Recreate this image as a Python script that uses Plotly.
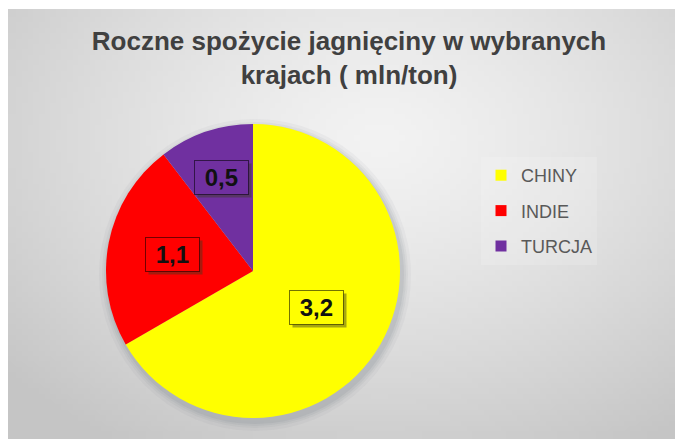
import base64, struct, zlib, math
import plotly.graph_objects as go

# ---- data ----
countries = ["CHINY", "INDIE", "TURCJA"]
consumption = [3.2, 1.1, 0.5]
colors = ["#FFFF00", "#FF0000", "#7030A0"]
title_text = "Roczne spożycie jagnięciny w wybranych<br>krajach ( mln/ton)"

# the page body adds an 8px margin, so the figure is 8px smaller
W, H = 675, 431
# pie geometry (figure pixels)
PCX, PCY, PR = 245, 263, 147


def make_png(w, h, fn):
    raw = bytearray()
    for j in range(h):
        raw.append(0)
        for i in range(w):
            raw.append(fn(i / (w - 1), j / (h - 1)))
    def chunk(t, d):
        c = struct.pack(">I", len(d)) + t + d
        return c + struct.pack(">I", zlib.crc32(t + d) & 0xFFFFFFFF)
    png = b"\x89PNG\r\n\x1a\n"
    png += chunk(b"IHDR", struct.pack(">IIBBBBB", w, h, 8, 0, 0, 0, 0))
    png += chunk(b"IDAT", zlib.compress(bytes(raw), 9))
    png += chunk(b"IEND", b"")
    return "data:image/png;base64," + base64.b64encode(png).decode()


def grad(u, v):
    dx = (u - 0.55) / 0.75
    dy = (v - 0.30) / 0.85
    d = min(1.0, math.sqrt(dx * dx + dy * dy))
    c = 243 - 46 * d ** 1.3
    return int(max(0, min(255, c)))


bg = make_png(120, 80, grad)

fig = go.Figure()

fig.add_trace(go.Pie(
    labels=countries,
    values=consumption,
    marker=dict(colors=colors, line=dict(width=0)),
    sort=False,
    direction="clockwise",
    rotation=0,
    textinfo="none",
    hoverinfo="label+value",
    showlegend=False,
    domain=dict(x=[(PCX - PR) / W, (PCX + PR) / W],
                y=[1 - (PCY + PR) / H, 1 - (PCY - PR) / H]),
))

# legend entries
for name, col in zip(countries, colors):
    fig.add_trace(go.Scatter(
        x=[None], y=[None], mode="markers", name=name, legendgroup=name,
        marker=dict(symbol="square", size=11, color=col),
        hoverinfo="skip",
    ))

# data labels with boxes (positions from slice angles)
total = sum(consumption)
fracs = [0.5, 0.56, 0.67]
annots = []
cum = 0.0
for v, col, f in zip(consumption, colors, fracs):
    mid = (cum + v / 2) / total * 2 * math.pi
    cum += v
    px = PCX + f * PR * math.sin(mid)
    py = PCY - f * PR * math.cos(mid)
    label = f"{v:.1f}".replace(".", ",")
    txt = "\u00a0" + label + "\u00a0"
    common = dict(x=px / W, y=1 - py / H, xref="paper", yref="paper",
                  showarrow=False, borderpad=3, borderwidth=1,
                  xanchor="center", yanchor="middle")
    # shadow box: blank text of the same width (7 nbsp = 2 digits + comma + 2 nbsp)
    annots.append(dict(**common, text="\u00a0" * 7,
                       font=dict(family="Liberation Sans", size=24, color="rgba(0,0,0,0)", weight="bold"),
                       bgcolor="rgba(60,60,30,0.45)", bordercolor="rgba(0,0,0,0)",
                       xshift=3, yshift=-3))
    annots.append(dict(**common, text=txt,
                       font=dict(family="Liberation Sans", size=24, color="#111111", weight="bold"),
                       bgcolor=col, bordercolor="rgba(0,0,0,0.55)"))

# soft shadow behind the pie
shapes = []
for k, op in [(9, 0.05), (6, 0.06), (4, 0.07), (2, 0.09)]:
    r = PR + k
    cx, cy = PCX + 2, PCY + 4
    shapes.append(dict(type="circle", xref="paper", yref="paper", layer="below",
                       x0=(cx - r) / W, x1=(cx + r) / W,
                       y0=1 - (cy + r) / H, y1=1 - (cy - r) / H,
                       fillcolor=f"rgba(90,95,110,{op})", line=dict(width=0)))

fig.update_layout(
    width=W, height=H, autosize=False,
    margin=dict(l=0, r=0, t=0, b=0),
    paper_bgcolor="white", plot_bgcolor="rgba(0,0,0,0)",
    xaxis=dict(visible=False), yaxis=dict(visible=False),
    images=[dict(source=bg, xref="paper", yref="paper", x=0, y=1 - 1 / H,
                 sizex=1, sizey=1 - 1 / H, sizing="stretch",
                 xanchor="left", yanchor="top", layer="below")],
    title=dict(text=title_text, x=341 / W, xanchor="center", y=1 - 42 / H, yanchor="top",
               font=dict(family="Liberation Sans", size=26, color="#404040", weight="bold")),
    legend=dict(x=473 / W, xanchor="left", y=1 - 149 / H, yanchor="top",
                font=dict(family="Liberation Sans", size=18, color="#595959"),
                tracegroupgap=9, itemwidth=30, bgcolor="rgba(255,255,255,0.15)",
                itemclick=False, itemdoubleclick=False),
    annotations=annots,
    shapes=shapes,
    separators=",.",
    showlegend=True,
)

fig.write_html("out.html")
